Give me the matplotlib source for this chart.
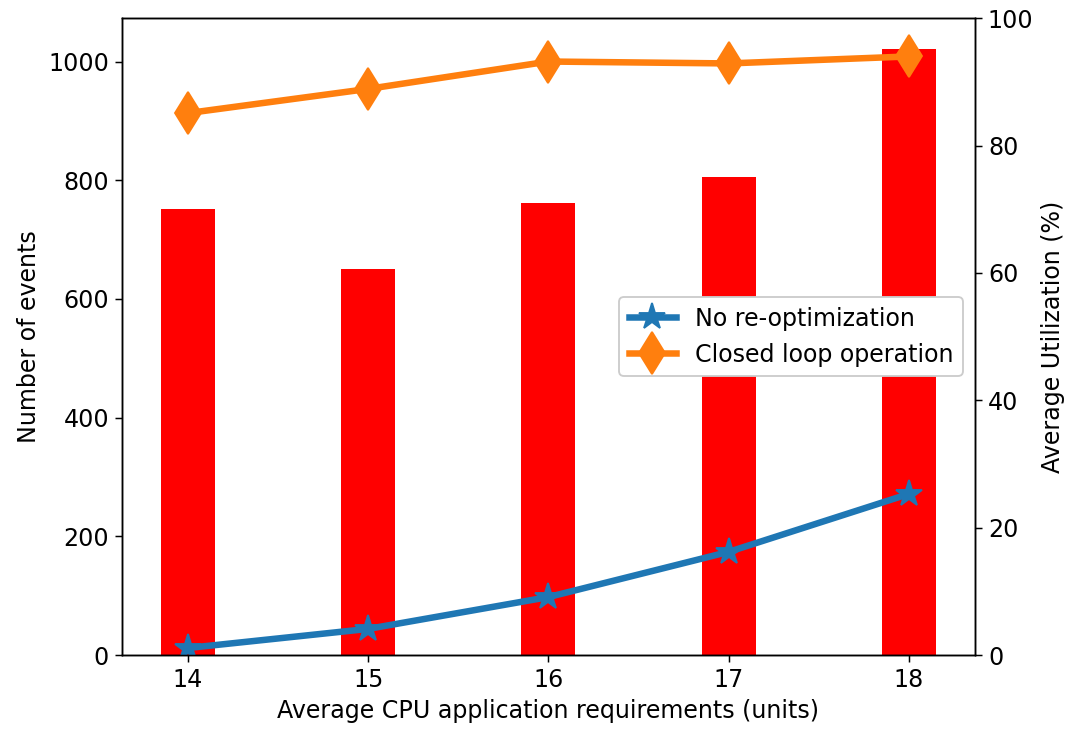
import numpy as np
import matplotlib.pyplot as plt

cpu_req = [14, 15, 16, 17, 18]
events = [752, 651, 762, 806, 1022]
util_no_reopt = [1.1, 4.1, 9.1, 16.2, 25.3]
util_closed_loop = [85.1, 88.9, 93.2, 92.9, 94.0]


def main():
    plt.rcParams["font.size"] = 12.75

    fig, ax1 = plt.subplots(figsize=(1076 / 134, 729 / 134), dpi=134)
    fig.subplots_adjust(left=0.1134, right=0.906, bottom=0.1015, top=0.975)

    ax1.bar(cpu_req, events, width=0.3, color="red")
    ax1.set_xlabel("Average CPU application requirements (units)")
    ax1.set_ylabel("Number of events")
    ax1.set_xticks(cpu_req)

    ax2 = ax1.twinx()
    ax2.plot(cpu_req, util_no_reopt, marker="*", markersize=15, linewidth=3.5,
             label="No re-optimization")
    ax2.plot(cpu_req, util_closed_loop, marker="d", markersize=16, linewidth=3.5,
             label="Closed loop operation")
    ax2.set_ylim(0, 100)
    ax2.set_ylabel("Average Utilization (%)")
    ax2.legend(loc="center right", framealpha=1)

    plt.savefig("out.png")


if __name__ == '__main__':
    main()
